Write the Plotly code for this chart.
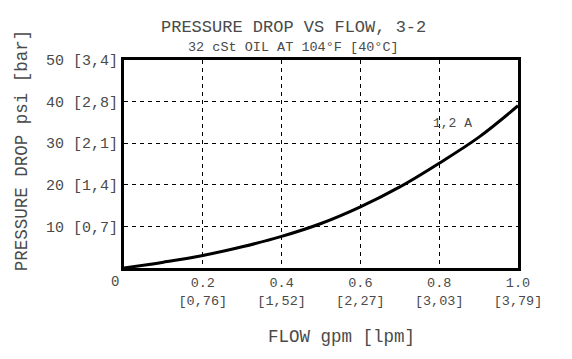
import plotly.graph_objects as go

flow_gpm = [0, 0.1, 0.2, 0.3, 0.4, 0.5, 0.6, 0.7, 0.8, 0.9, 1.0]
dp_psi = [0, 1.4, 3.0, 5.1, 7.6, 10.7, 14.7, 19.5, 25.2, 31.4, 39.0]

x_tick_vals = [0.2, 0.4, 0.6, 0.8, 1.0]
x_tick_gpm = ["0.2", "0.4", "0.6", "0.8", "1.0"]
x_tick_lpm = ["[0,76]", "[1,52]", "[2,27]", "[3,03]", "[3,79]"]
y_tick_vals = [10, 20, 30, 40, 50]
y_tick_bar = ["[0,7]", "[1,4]", "[2,1]", "[2,8]", "[3,4]"]

FONT = "Liberation Mono, DejaVu Sans Mono, monospace"
TC = "#4a4a4a"

fig = go.Figure()
fig.add_trace(go.Scatter(x=flow_gpm, y=dp_psi, mode="lines",
                         line=dict(color="black", width=3, shape="spline", smoothing=1.0),
                         showlegend=False, hoverinfo="skip"))

fig.update_layout(
    width=572, height=359,
    margin=dict(l=124, r=54, t=60, b=91, autoexpand=False),
    paper_bgcolor="white", plot_bgcolor="white",
    font=dict(family=FONT, color=TC, size=14),
    xaxis=dict(range=[0, 1.0], tickvals=x_tick_vals,
               ticktext=[f"{a}<br>{b}" for a, b in zip(x_tick_gpm, x_tick_lpm)],
               showgrid=True, gridcolor="black", gridwidth=1, griddash="4px,4px",
               showline=True, linecolor="black", linewidth=3, mirror=True,
               zeroline=False, ticks="", tickfont=dict(size=13.5, color=TC)),
    yaxis=dict(range=[0, 50], tickvals=y_tick_vals,
               ticktext=[f"{v} {b}" for v, b in zip(y_tick_vals, y_tick_bar)],
               showgrid=True, gridcolor="black", gridwidth=1, griddash="4px,4px",
               showline=True, linecolor="black", linewidth=3, mirror=True,
               zeroline=False, ticks="", tickfont=dict(size=15, color=TC)),
    annotations=[
        dict(text="PRESSURE DROP VS FLOW, 3-2", xref="paper", yref="paper",
             x=0.429, y=1.156, xanchor="center", yanchor="middle",
             showarrow=False, font=dict(size=17, color=TC)),
        dict(text="32 cSt OIL AT 104°F [40°C]", xref="paper", yref="paper",
             x=0.429, y=1.06, xanchor="center", yanchor="middle",
             showarrow=False, font=dict(size=13.5, color=TC)),
        dict(text="PRESSURE DROP psi [bar]", xref="paper", yref="paper",
             x=-0.259, y=0.566, xanchor="center", yanchor="middle",
             showarrow=False, textangle=-90, font=dict(size=17.5, color=TC)),
        dict(text="FLOW gpm [lpm]", xref="paper", yref="paper",
             x=0.553, y=-0.331, xanchor="center", yanchor="middle",
             showarrow=False, font=dict(size=17.5, color=TC)),
        dict(text="0", xref="x", yref="paper", x=0, y=0, xshift=-9, yshift=-14,
             xanchor="center", yanchor="middle",
             showarrow=False, font=dict(size=14, color=TC)),
        dict(text="1,2 A", xref="x", yref="y", x=0.833, y=34.8,
             xanchor="center", yanchor="middle",
             showarrow=False, font=dict(size=13, color=TC)),
    ],
)

fig.write_html("out.html", config={"displayModeBar": False},
               post_script="document.body.style.margin='0';document.body.style.padding='0';")
